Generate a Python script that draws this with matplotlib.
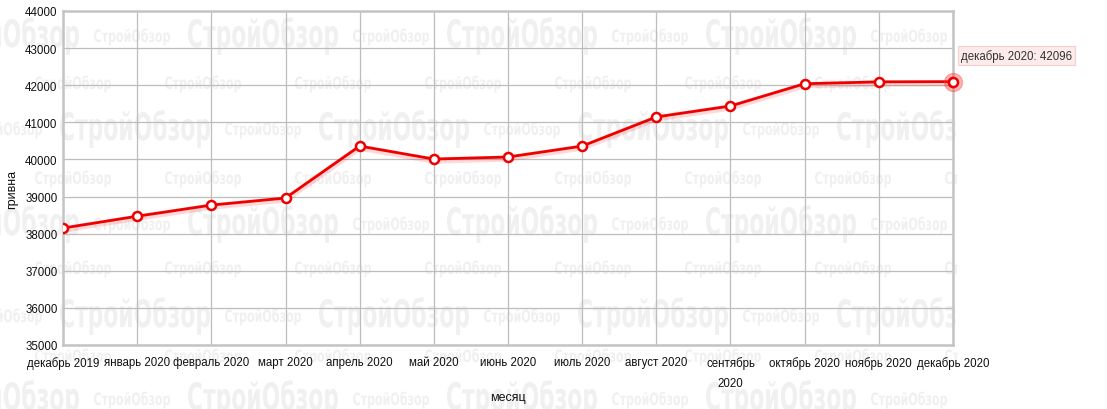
import numpy as np
import matplotlib
matplotlib.use("Agg")
import matplotlib.pyplot as plt
import matplotlib.transforms as mtransforms
from matplotlib.textpath import TextPath
from matplotlib.patches import PathPatch, Rectangle
from matplotlib.font_manager import FontProperties

# Data
months = ["декабрь 2019", "январь 2020", "февраль 2020", "март 2020", "апрель 2020",
          "май 2020", "июнь 2020", "июль 2020", "август 2020", "сентябрь\n2020",
          "октябрь 2020", "ноябрь 2020", "декабрь 2020"]
price = [38150, 38470, 38770, 38960, 40360, 40010, 40065, 40360, 41145, 41440,
         42040, 42090, 42096]
yticks = [35000, 36000, 37000, 38000, 39000, 40000, 41000, 42000, 43000, 44000]

W, H = 1107, 410
plt.rcParams['font.family'] = ['Liberation Sans', 'DejaVu Sans']

fig = plt.figure(figsize=(W / 100, H / 100), dpi=100)
fig.patch.set_facecolor("white")

# watermark "СтройОбзор" tiled in the background
wm_prop = FontProperties(family="DejaVu Sans", weight="bold")
wm_path = TextPath((0, 0), "СтройОбзор", size=1, prop=wm_prop)
ext = wm_path.get_extents()
clip = Rectangle((0, 0), 958, H, transform=mtransforms.IdentityTransform())


def watermark(x, yc, w, h):
    sx = w / ext.width
    sy = h / ext.height
    tr = mtransforms.Affine2D().translate(-ext.x0, -ext.y0).scale(sx, sy) \
        .translate(x, H - yc - h / 2)
    p = PathPatch(wm_path, facecolor="#f0f0f0", edgecolor="none",
                  transform=tr, zorder=0)
    p.set_clip_path(clip)
    fig.add_artist(p)


big_w, big_h = 150, 38
sm_w, sm_h = 76, 17
for r, yc in enumerate([37, 130, 225, 317, 400]):
    off = 188 if r % 2 == 0 else 60
    for k in range(-1, 4):
        watermark(off + k * 259, yc, big_w, big_h)
        watermark(off - 94 + k * 259, yc + 1, sm_w, sm_h)
for yc in [85, 180, 270, 358]:
    for k in range(-1, 8):
        watermark(165 + k * 130, yc, sm_w, sm_h)

ax = fig.add_axes([63 / W, 1 - 346 / H, 890 / W, 334 / H])
ax.set_facecolor("none")
x = np.arange(len(months))

# soft shadow under the line
shadow = mtransforms.offset_copy(ax.transData, fig=fig, x=0, y=-1.5, units="dots")
ax.plot(x, price, color="#ff0000", alpha=0.15, lw=4.5, transform=shadow, zorder=2,
        solid_capstyle="round")
ax.plot(x, price, color="#ee0000", lw=2, zorder=3)
ax.plot(x, price, linestyle="none", marker="o", markersize=6.5,
        markerfacecolor="white", markeredgecolor="#ee0000", markeredgewidth=1.8,
        zorder=4)
# highlighted last point
ax.plot(x[-1], price[-1], marker="o", markersize=13, color="#ff3333", alpha=0.35,
        zorder=3.5, clip_on=False)
ax.plot(x[-1], price[-1], marker="o", markersize=6.5, markerfacecolor="white",
        markeredgecolor="#ee0000", markeredgewidth=1.8, zorder=5, clip_on=False)

ax.set_xlim(0, len(months) - 1)
ax.set_ylim(35000, 44000)
ax.set_xticks(x)
ax.set_xticklabels(months, fontsize=8.3, color="#111111", linespacing=1.9)
ax.set_yticks(yticks)
ax.set_yticklabels([str(v) for v in yticks], fontsize=8.3, color="#111111")
ax.tick_params(length=0, pad=4)
ax.tick_params(axis="x", pad=8)
ax.grid(True, color="#bdbdbd", lw=0.9)
ax.set_axisbelow(True)
for s in ax.spines.values():
    s.set_color("#c4c4c4")
    s.set_linewidth(1.8)

ax.set_ylabel("гривна", fontsize=9, color="#111111")
ax.yaxis.set_label_coords(-0.05, 0.47)
ax.set_xlabel("месяц", fontsize=9, color="#111111")
ax.xaxis.set_label_coords(0.5, -0.156)
ax.xaxis.label.set_va("center")

# tooltip
ax.annotate(f"{months[-1]}: {price[-1]}", xy=(x[-1], price[-1]),
            xytext=(6, 19), textcoords="offset points", fontsize=8.3,
            color="#333333", va="center", ha="left", annotation_clip=False,
            bbox=dict(boxstyle="square,pad=0.25", facecolor="#fdeaea",
                      edgecolor="#f6d0d0", lw=0.8))

fig.savefig("out.png", dpi=100, facecolor="white")
